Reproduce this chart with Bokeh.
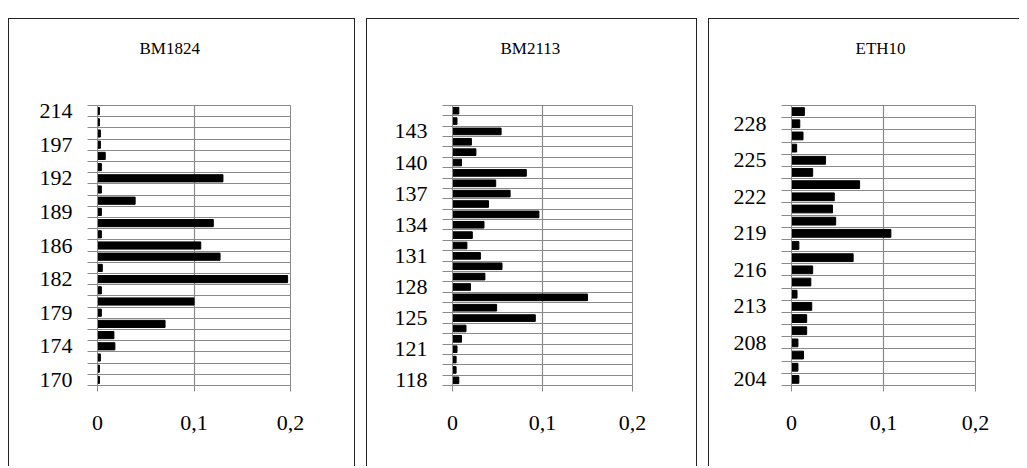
from bokeh.plotting import figure
from bokeh.layouts import row
from bokeh.models import Range1d, FixedTicker, ColumnDataSource, Title
from bokeh.embed import file_html
from bokeh.resources import INLINE

# ---- data (allele frequency per allele, bottom -> top); every 3rd allele labelled ----
label_step = 3
bm1824_labels = ["170", "174", "179", "182", "186", "189", "192", "197", "214"]
bm1824_freq = [0.002, 0.002, 0.003, 0.018, 0.017, 0.070, 0.004, 0.100, 0.004, 0.197,
               0.005, 0.127, 0.107, 0.004, 0.120, 0.004, 0.039, 0.004, 0.130, 0.004,
               0.008, 0.003, 0.003, 0.002, 0.002]
bm2113_labels = ["118", "121", "125", "128", "131", "134", "137", "140", "143"]
bm2113_freq = [0.007, 0.004, 0.004, 0.005, 0.010, 0.015, 0.092, 0.049, 0.150, 0.020,
               0.036, 0.055, 0.031, 0.016, 0.022, 0.035, 0.096, 0.040, 0.064, 0.048,
               0.082, 0.010, 0.026, 0.021, 0.054, 0.005, 0.007]
eth10_labels = ["204", "208", "213", "216", "219", "222", "225", "228"]
eth10_freq = [0.008, 0.007, 0.013, 0.007, 0.0165, 0.0165, 0.022, 0.006, 0.021, 0.023,
              0.067, 0.008, 0.108, 0.048, 0.0445, 0.0465, 0.074, 0.023, 0.037, 0.0056,
              0.0125, 0.009, 0.014]
x_ticks = [0, 0.1, 0.2]
x_tick_labels = ["0", "0,1", "0,2"]

H = 448
FONT = "Liberation Serif"
GRID = "#8a8a8a"


def make_panel(name, labels, freq, width, f_left, f_right, f_top, f_bottom, t_off,
               right_edge=True):
    n = len(freq)
    src = ColumnDataSource(dict(y=list(range(n)), f=freq))
    p = figure(width=width, height=H, output_backend="svg", toolbar_location=None,
               title=None,
               x_range=Range1d(0, 0.2), y_range=Range1d(-0.5, n - 0.5),
               min_border_left=f_left, min_border_right=width - f_right,
               min_border_top=f_top, min_border_bottom=H - f_bottom)
    p.hbar(y="y", left=0, right="f", height=0.64, source=src,
           fill_color="black", line_color="black")
    bounds = [i - 0.5 for i in range(n + 1)]
    # y axis
    yax = p.yaxis[0]
    yax.ticker = FixedTicker(ticks=[i * label_step for i in range(len(labels))],
                             minor_ticks=bounds)
    yax.major_label_overrides = {i * label_step: lab for i, lab in enumerate(labels)}
    yax.major_tick_out = 0
    yax.major_tick_in = 0
    yax.minor_tick_out = 10
    yax.minor_tick_in = 0
    yax.minor_tick_line_color = GRID
    yax.axis_line_color = GRID
    yax.major_label_standoff = 15
    # x axis
    xax = p.xaxis[0]
    xax.ticker = FixedTicker(ticks=x_ticks)
    xax.major_label_overrides = {t: lab for t, lab in zip(x_ticks, x_tick_labels)}
    xax.major_tick_out = 6
    xax.major_tick_in = 0
    xax.major_tick_line_color = GRID
    xax.axis_line_color = GRID
    xax.major_label_standoff = 24
    for ax in (xax, yax):
        ax.major_label_text_font = FONT
        ax.major_label_text_font_size = "22px"
        ax.major_label_text_color = "black"
    # grids
    p.ygrid.ticker = FixedTicker(ticks=bounds)
    p.xgrid.ticker = FixedTicker(ticks=x_ticks)
    for g in (p.xgrid[0], p.ygrid[0]):
        g.grid_line_color = GRID
        g.grid_line_width = 1.2
    p.outline_line_color = GRID
    # title (an empty title first keeps the real one higher up)
    p.add_layout(Title(text=" ", text_font_size="28px"), "above")
    p.add_layout(Title(text=name, align="left", offset=t_off, text_font=FONT,
                       text_font_size="17px", text_font_style="normal",
                       text_color="black"), "above")
    p.border_fill_alpha = 0
    shadow = "inset 1px 1px 0 #222"
    if right_edge:
        shadow += ", inset -1px 0 0 #222"
    p.styles = {"box-shadow": shadow}
    return p


p1 = make_panel("BM1824", bm1824_labels, bm1824_freq, 347, 89, 282, 82, 367, 42)
p2 = make_panel("BM2113", bm2113_labels, bm2113_freq, 331, 86, 266, 87, 367, 48)
p3 = make_panel("ETH10", eth10_labels, eth10_freq, 311, 83, 267, 85, 367, 64,
                right_edge=False)

layout = row(p1, p2, p3, spacing=11, margin=(18, 0, 0, 8))
open("out.html", "w").write(file_html(layout, INLINE))
